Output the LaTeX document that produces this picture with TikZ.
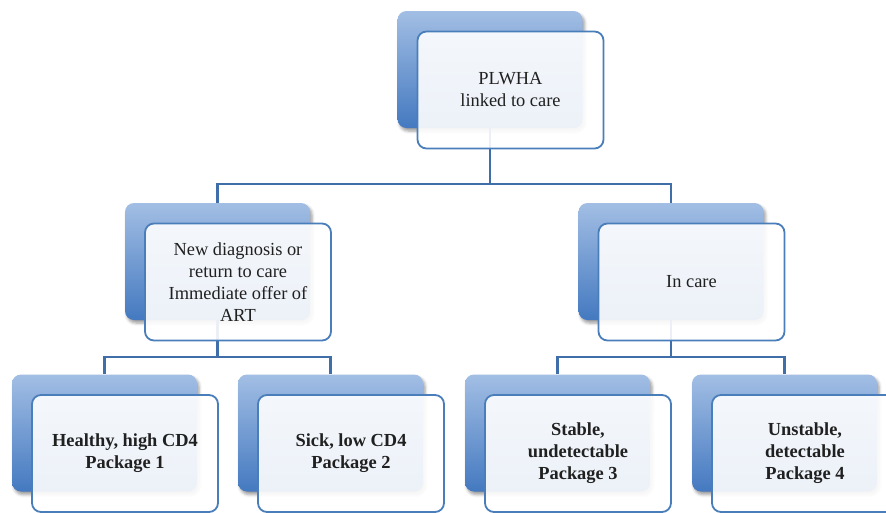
\documentclass[tikz,border=0pt]{standalone}
\usepackage{fontspec}
\setmainfont{Liberation Serif}
\usetikzlibrary{shadows.blur}
\definecolor{backtop}{HTML}{A2BEE4}
\definecolor{backbot}{HTML}{4479C0}
\definecolor{framecol}{HTML}{4A7EBB}
\definecolor{conncol}{HTML}{3F6EA8}
\definecolor{txtcol}{HTML}{202020}
\begin{document}
\begin{tikzpicture}[x=1pt,y=-1pt,
  backbox/.style={rounded corners=9pt, minimum width=185pt, minimum height=117pt, inner sep=0pt,
    top color=backtop, bottom color=backbot, draw=none,
    blur shadow={shadow xshift=2pt, shadow yshift=-3pt, shadow opacity=40, shadow blur radius=3pt}},
  frontbox/.style={rounded corners=9pt, minimum width=186pt, minimum height=117pt, inner sep=2pt,
    draw=framecol, line width=1.8pt, fill=white, fill opacity=0.9, draw opacity=1, text opacity=1,
    text=txtcol, align=center, font=\fontsize{18.4}{22}\selectfont},
  boldbox/.style={frontbox, font=\fontsize{18.4}{22}\selectfont\bfseries},
  connector/.style={draw=conncol, line width=2.1pt}]
\useasboundingbox (0,0) rectangle (886,512);
\clip (0,0) rectangle (886,512);
% back boxes
\node[backbox] (b0) at (490,69.5) {};
\node[backbox] (b1) at (217.5,261.5) {};
\node[backbox] (b2) at (671,261.5) {};
\node[backbox] (b11) at (104.5,433) {};
\node[backbox] (b12) at (330.5,433) {};
\node[backbox] (b21) at (557.5,433) {};
\node[backbox] (b22) at (784.5,433) {};
% connectors
\coordinate (bus0) at (0,184);
\coordinate (bus1) at (0,357);
\draw[connector] (b0.south) -- (b0.south |- bus0) -| (b1.north);
\draw[connector] (b0.south |- bus0) -| (b2.north);
\draw[connector] (b1.south) -- (b1.south |- bus1) -| (b11.north);
\draw[connector] (b1.south |- bus1) -| (b12.north);
\draw[connector] (b2.south) -- (b2.south |- bus1) -| (b21.north);
\draw[connector] (b2.south |- bus1) -| (b22.north);
% front boxes
\node[frontbox] (f0) at ([shift={(20.5,20.5)}]b0.center) {PLWHA\\linked to care};
\node[frontbox] (f1) at ([shift={(20.5,20.5)}]b1.center) {New diagnosis or\\return to care\\Immediate offer of\\ART};
\node[frontbox] (f2) at ([shift={(20.5,20.5)}]b2.center) {In care};
\node[boldbox] (f11) at ([shift={(20.5,20.5)}]b11.center) {Healthy, high CD4\\Package 1};
\node[boldbox] (f12) at ([shift={(20.5,20.5)}]b12.center) {Sick, low CD4\\Package 2};
\node[boldbox] (f21) at ([shift={(20.5,20.5)}]b21.center) {Stable,\\undetectable\\Package 3};
\node[boldbox] (f22) at ([shift={(20.5,20.5)}]b22.center) {Unstable,\\detectable\\Package 4};
\end{tikzpicture}
\end{document}
